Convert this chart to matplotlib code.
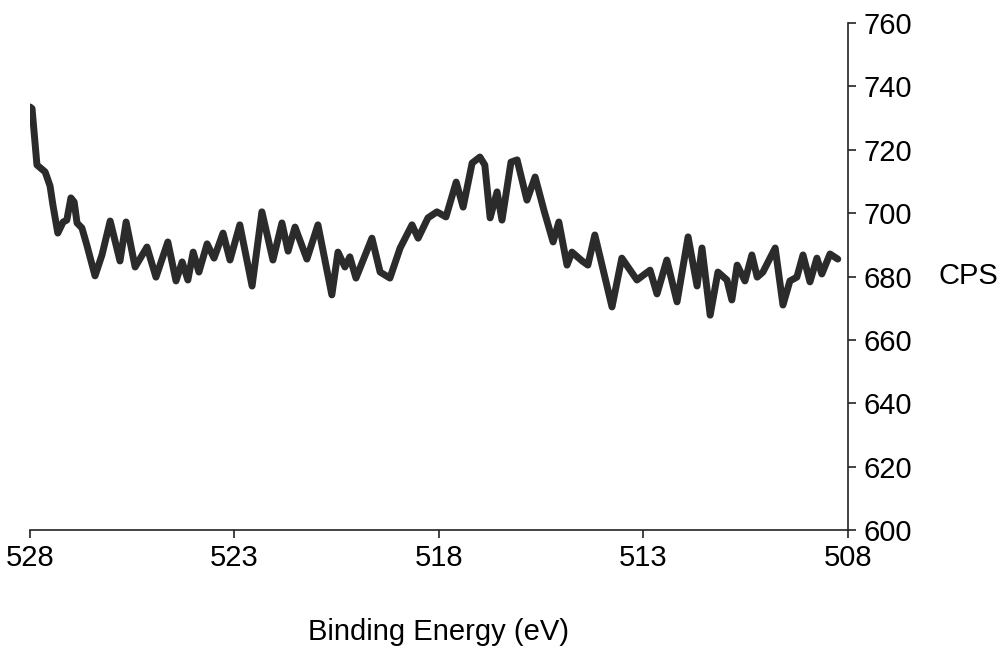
"""
XPS spectrum - binding energy vs CPS, y axis on the right.
"""

import matplotlib
matplotlib.use("Agg")
import matplotlib.pyplot as plt

# binding energy (eV)
ENERGY = [528.00, 527.95, 527.83, 527.63, 527.51, 527.44, 527.32, 527.19, 527.10,
          527.00, 526.92, 526.85, 526.73, 526.61, 526.41, 526.24, 526.04, 525.80,
          525.65, 525.43, 525.14, 524.92, 524.63, 524.43, 524.28, 524.14, 524.01,
          523.87, 523.67, 523.50, 523.28, 523.11, 522.87, 522.57, 522.33, 522.06,
          521.84, 521.69, 521.52, 521.23, 520.96, 520.62, 520.47, 520.30, 520.18,
          520.03, 519.64, 519.44, 519.20, 518.95, 518.66, 518.51, 518.27, 518.05,
          517.83, 517.58, 517.41, 517.19, 517.00, 516.88, 516.75, 516.58, 516.46,
          516.24, 516.09, 515.85, 515.65, 515.43, 515.21, 515.07, 514.87, 514.75,
          514.50, 514.36, 514.19, 513.77, 513.53, 513.16, 512.84, 512.67, 512.43,
          512.18, 511.91, 511.69, 511.57, 511.37, 511.18, 510.96, 510.84, 510.71,
          510.52, 510.35, 510.22, 510.08, 509.78, 509.59, 509.42, 509.25, 509.10,
          508.93, 508.76, 508.64, 508.44, 508.25]

CPS = [733.5, 733.0, 715.2, 713.0, 708.6, 702.6, 693.7, 697.2, 697.8,
       704.8, 703.5, 696.9, 695.3, 689.9, 680.2, 686.8, 697.5, 684.9,
       697.2, 683.0, 689.3, 679.8, 690.9, 678.6, 684.6, 678.9, 687.7,
       681.4, 690.3, 685.8, 693.7, 685.2, 696.3, 677.0, 700.4, 685.2,
       696.9, 688.0, 695.6, 685.5, 696.3, 674.2, 687.7, 683.0, 686.2,
       679.5, 692.1, 681.4, 679.5, 689.0, 696.3, 692.1, 698.5, 700.4,
       698.8, 709.8, 701.9, 715.8, 717.7, 715.2, 698.5, 706.7, 697.8,
       716.1, 716.8, 704.1, 711.4, 700.7, 690.9, 697.2, 683.6, 687.7,
       684.9, 683.6, 693.1, 670.4, 685.8, 678.9, 682.0, 674.5, 685.2,
       672.0, 692.5, 677.0, 689.0, 667.8, 681.4, 678.9, 672.6, 683.6,
       678.6, 686.8, 679.8, 681.4, 689.0, 671.0, 678.6, 679.8, 686.8,
       678.3, 685.8, 680.8, 687.1, 685.5]

X_TICKS = [528, 523, 518, 513, 508]
Y_TICKS = [600, 620, 640, 660, 680, 700, 720, 740, 760]

LINE_COLOR = "#2b2b2b"
FONT = ["Liberation Sans", "DejaVu Sans"]


def main():
    plt.rcParams["font.family"] = FONT

    fig = plt.figure(figsize=(10.02, 6.56), dpi=100)
    ax = fig.add_axes([30 / 1002, 1 - 530 / 656, 818 / 1002, 507 / 656])

    ax.plot(ENERGY, CPS, color=LINE_COLOR, linewidth=5.0,
            solid_joinstyle="round", solid_capstyle="round")

    ax.set_xlim(528, 508)
    ax.set_ylim(600, 760)
    ax.set_xticks(X_TICKS)
    ax.set_yticks(Y_TICKS)

    # only bottom + right spines, like the original
    ax.spines["top"].set_visible(False)
    ax.spines["left"].set_visible(False)
    for side in ("bottom", "right"):
        ax.spines[side].set_linewidth(1.2)
        ax.spines[side].set_color("#222222")

    ax.yaxis.tick_right()
    ax.yaxis.set_label_position("right")
    ax.tick_params(axis="both", direction="out", length=6, width=1.2,
                   colors="#222222", labelsize=21, labelcolor="black")
    ax.tick_params(axis="y", pad=5)
    ax.tick_params(axis="x", pad=4)

    ax.set_xlabel("Binding Energy (eV)", fontsize=21, va="center")
    ax.xaxis.set_label_coords(0.5, -0.201)
    ax.set_ylabel("CPS", fontsize=21, rotation=0, va="center", ha="center")
    ax.yaxis.set_label_coords(1.147, 0.5)

    fig.savefig("out.png", dpi=100)
    plt.close(fig)


if __name__ == "__main__":
    main()
